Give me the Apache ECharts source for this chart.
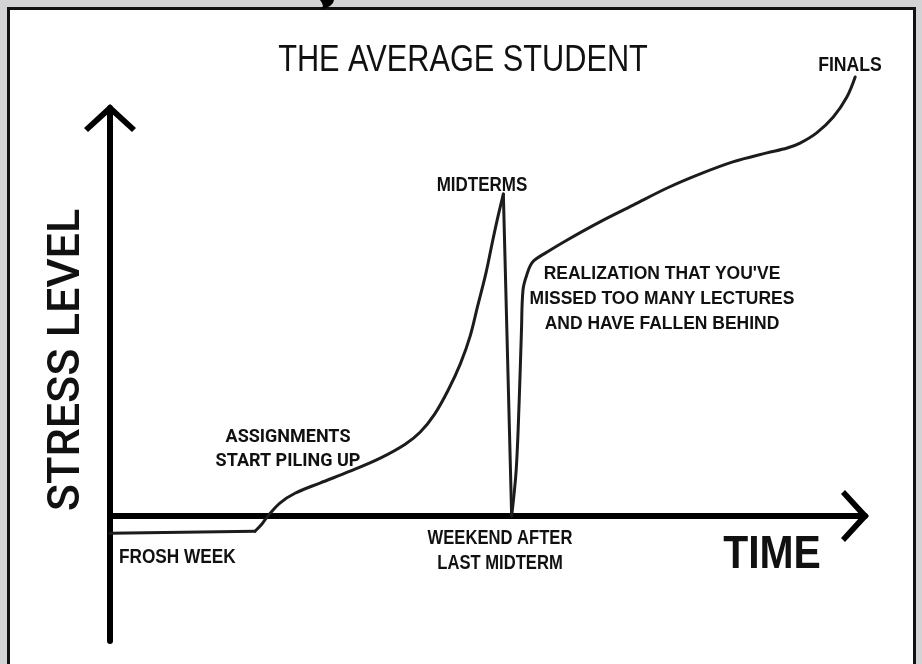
<!DOCTYPE html>
<html>
<head>
<meta charset="utf-8">
<script src="https://cdn.jsdelivr.net/npm/echarts@6/dist/echarts.min.js"></script>
<style>html,body{margin:0;padding:0;background:#fff}#c{width:922px;height:664px}</style>
</head>
<body>
<div id="c"></div>
<script>
// Stress level (y) over time (x); x 0..100 along the TIME axis, y 0..100 up the STRESS axis
const froshWeek = [[0, -4.2], [19.2, -3.7]];
const pilingUp = [[19.2, -3.7], [20.1, -2.0], [20.9, 0], [22.5, 3.2], [24.5, 5.6], [27.8, 8.1], [31.8, 11.0], [35.8, 14.2], [39.1, 17.6], [41.1, 20.6], [43.0, 25.0], [44.8, 30.9], [46.4, 37.3], [47.7, 44.1], [48.7, 51.5], [49.8, 59.6], [50.7, 67.6], [51.4, 73.5], [52.1, 78.9]];
const weekendDrop = [[52.1, 78.9], [53.2, 0]];
const fallenBehind = [[53.2, 0], [53.8, 11.3], [54.2, 28.4], [54.5, 45.6], [54.7, 55.4], [55.2, 59.1], [56.0, 62.3], [57.9, 64.7], [60.5, 67.6], [64.9, 72.1], [69.3, 76.2], [73.8, 80.4], [78.1, 83.8], [82.5, 86.8], [87.0, 89.0], [89.7, 90.2], [91.4, 91.4], [93.6, 93.9], [95.8, 97.8], [97.6, 102.7], [98.7, 107.6]];

const titleText = 'THE AVERAGE STUDENT';
const xAxisName = 'TIME';
const yAxisName = 'STRESS LEVEL';

const SANS = "'Liberation Sans', Arial, sans-serif";
const ROBOTO = "Roboto, 'Noto Sans', sans-serif";
const INK = '#111';
const arrowPath = 'path://M26,0 L52,24 L48,28 L26,8 L4,28 L0,24 Z';

function lineSeries(data, smooth) {
  return {
    type: 'line', data: data, smooth: smooth, symbol: 'none', showSymbol: false,
    clip: false, silent: true, animation: false,
    lineStyle: { color: '#1c1c1c', width: 3, cap: 'round', join: 'round' }
  };
}

function txt(text, x, y, size, family, weight, opts) {
  opts = opts || {};
  const el = {
    type: 'text', x: x, y: y, silent: true, z: 50,
    scaleX: opts.scaleX || 1,
    style: { text: text, fontSize: size, fontFamily: family, fontWeight: weight, fill: INK, align: opts.align || 'center', verticalAlign: 'middle', lineHeight: opts.lineHeight || Math.round(size * 1.2) }
  };
  if (opts.rotation) el.rotation = opts.rotation;
  return el;
}

const chart = echarts.init(document.getElementById('c'));
chart.setOption({
  animation: false,
  backgroundColor: '#ffffff',
  grid: { left: 110, right: 57, top: 108, bottom: 23, containLabel: false },
  xAxis: {
    type: 'value', min: 0, max: 100,
    axisLine: { show: true, onZero: true, symbol: ['none', arrowPath], symbolSize: [52, 28], symbolOffset: [0, -10], lineStyle: { color: '#000', width: 6 } },
    axisTick: { show: false }, axisLabel: { show: false }, splitLine: { show: false }
  },
  yAxis: {
    type: 'value', min: -30.6, max: 100,
    axisLine: { show: true, onZero: true, symbol: ['none', arrowPath], symbolSize: [54, 28], symbolOffset: [0, -10], lineStyle: { color: '#000', width: 6 } },
    axisTick: { show: false }, axisLabel: { show: false }, splitLine: { show: false }
  },
  series: [
    lineSeries(froshWeek, false),
    lineSeries(pilingUp, 0.35),
    lineSeries(weekendDrop, false),
    lineSeries(fallenBehind, 0.35)
  ],
  graphic: [
    { type: 'rect', silent: true, z: 100, shape: { x: 0, y: 0, width: 922, height: 7 }, style: { fill: '#d3d3d5' } },
    { type: 'rect', silent: true, z: 100, shape: { x: 0, y: 0, width: 7, height: 664 }, style: { fill: '#d3d3d5' } },
    { type: 'rect', silent: true, z: 100, shape: { x: 916, y: 0, width: 6, height: 664 }, style: { fill: '#d3d3d5' } },
    { type: 'rect', silent: true, z: 101, shape: { x: 8.5, y: 8.5, width: 906, height: 700 }, style: { fill: 'none', stroke: '#111', lineWidth: 3 } },
    { type: 'polygon', silent: true, z: 102, shape: { points: [[320, 0], [334, 0], [333, 3], [330, 6], [326, 8], [321, 9], [323, 6], [322, 3]] }, style: { fill: '#000' } },
    txt(titleText, 463, 61, 37, SANS, 'normal', { scaleX: 0.83 }),
    txt('FINALS', 850, 65, 21, SANS, 'bold', { scaleX: 0.84 }),
    txt('MIDTERMS', 482, 185, 21, SANS, 'bold', { scaleX: 0.81 }),
    txt("REALIZATION THAT YOU'VE\nMISSED TOO MANY LECTURES\nAND HAVE FALLEN BEHIND", 662, 299, 19, SANS, 'bold', { scaleX: 0.92, lineHeight: 25 }),
    txt('ASSIGNMENTS\nSTART PILING UP', 288, 449, 18, ROBOTO, 'bold', { lineHeight: 24 }),
    txt('FROSH WEEK', 119, 557, 21, SANS, 'bold', { align: 'left', scaleX: 0.82 }),
    txt('WEEKEND AFTER\nLAST MIDTERM', 500, 551, 20, SANS, 'bold', { scaleX: 0.83, lineHeight: 25 }),
    txt(xAxisName, 772, 555, 47, SANS, 'bold', { scaleX: 0.87 }),
    txt(yAxisName, 68, 360, 45, ROBOTO, '500', { lineHeight: 54, rotation: Math.PI / 2 })
  ]
});
</script>
</body>
</html>
